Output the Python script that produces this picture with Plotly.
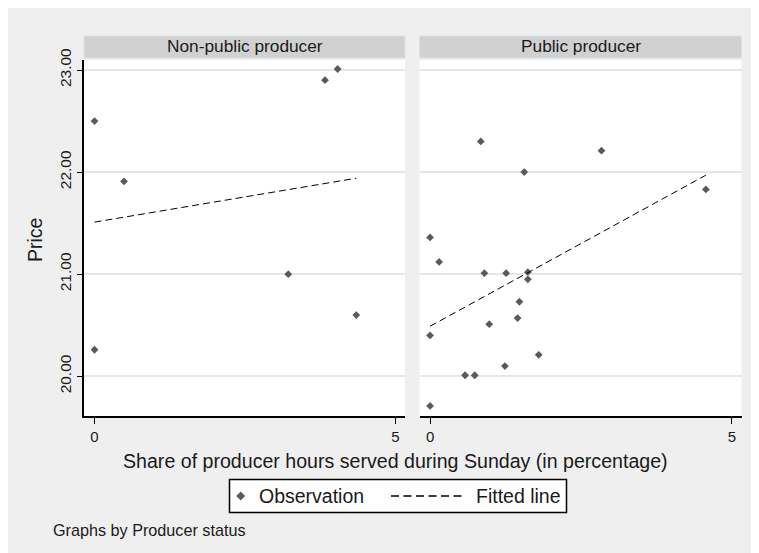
import plotly.graph_objects as go

# The page body adds an 8px margin, so the figure is laid out in
# coordinates shifted by 8px from the 759x553 window.
W, H = 751, 545
OFF = 8

# ---- data ----
panel_titles = ["Non-public producer", "Public producer"]

x_nonpublic = [0.00, 0.49, 3.83, 4.04, 3.22, 4.35, 0.00]
y_nonpublic = [22.50, 21.91, 22.90, 23.01, 21.00, 20.60, 20.26]

x_public = [0.84, 1.56, 0.00, 0.15, 2.84, 4.57, 0.90, 1.26, 1.62, 1.62,
            1.48, 1.45, 0.98, 0.00, 1.80, 1.24, 0.58, 0.74, 0.00]
y_public = [22.30, 22.00, 21.36, 21.12, 22.21, 21.83, 21.01, 21.01, 21.02, 20.95,
            20.73, 20.57, 20.51, 20.40, 20.21, 20.10, 20.01, 20.01, 19.71]

fit_nonpublic_x = [0.00, 4.35]
fit_nonpublic_y = [21.51, 21.94]
fit_public_x = [0.00, 4.57]
fit_public_y = [20.49, 21.97]

y_ticks = [20, 21, 22, 23]
x_ticks = [0, 5]

legend_labels = ["Observation", "Fitted line"]
x_title = "Share of producer hours served during Sunday (in percentage)"
y_title = "Price"
note = "Graphs by Producer status"

# ---- helpers (window pixel -> paper fraction) ----
def px(x):
    return (x - OFF) / W

def py(y):
    return 1 - (y - OFF) / H

FONT = "Liberation Sans, Arial, sans-serif"
TXT = "#1a1a1a"
MARK = "#5a5a5a"

fig = go.Figure()

marker = dict(symbol="diamond", size=6, color=MARK)
line = dict(color="black", width=1, dash="7px,4px")

fig.add_trace(go.Scatter(x=x_nonpublic, y=y_nonpublic, mode="markers", marker=marker,
                         name=legend_labels[0], xaxis="x", yaxis="y"))
fig.add_trace(go.Scatter(x=fit_nonpublic_x, y=fit_nonpublic_y, mode="lines", line=line,
                         name=legend_labels[1], xaxis="x", yaxis="y"))
fig.add_trace(go.Scatter(x=x_public, y=y_public, mode="markers", marker=marker,
                         name=legend_labels[0], xaxis="x2", yaxis="y2"))
fig.add_trace(go.Scatter(x=fit_public_x, y=fit_public_y, mode="lines", line=line,
                         name=legend_labels[1], xaxis="x2", yaxis="y2"))

# panel geometry in window pixels
L1, R1 = 84, 405
L2, R2 = 419.5, 741.5
TOP, BOT = 60, 416
yr = [19.611, 23.098]

common_x = dict(range=[-0.175, 5.16], tickvals=x_ticks, ticktext=[str(v) for v in x_ticks],
                showline=True, linecolor="black", linewidth=1.5, ticks="outside",
                ticklen=6, tickwidth=1.2, tickcolor="black", showgrid=False, zeroline=False,
                tickfont=dict(family=FONT, size=15, color=TXT), fixedrange=True,
                automargin=False)

fig.update_layout(
    template="none",
    width=W, height=H, autosize=False,
    margin=dict(l=0, r=0, t=0, b=0, pad=0),
    paper_bgcolor="#efefef", plot_bgcolor="white",
    font=dict(family=FONT, color=TXT),
    showlegend=False,
    xaxis=dict(domain=[px(L1), px(R1)], anchor="y", **common_x),
    xaxis2=dict(domain=[px(L2), px(R2)], anchor="y2", **common_x),
    yaxis=dict(domain=[py(BOT), py(TOP)], anchor="x", range=yr, tickvals=y_ticks,
               tickformat=".2f", tickangle=-90, showline=True, linecolor="black",
               linewidth=1.5, ticks="outside", ticklen=5, tickwidth=1.2, tickcolor="black",
               showgrid=True, gridcolor="#e6e6e6", gridwidth=1.5, zeroline=False,
               tickfont=dict(family=FONT, size=15.5, color=TXT), fixedrange=True,
               automargin=False),
    yaxis2=dict(domain=[py(BOT), py(TOP)], anchor="x2", range=yr, tickvals=y_ticks,
                showticklabels=False, showline=False, ticks="",
                showgrid=True, gridcolor="#e6e6e6", gridwidth=1.5, zeroline=False,
                fixedrange=True, automargin=False),
)

shapes = []
# strip headers
for (l, r) in [(L1, R1), (L2, R2)]:
    shapes.append(dict(type="rect", xref="paper", yref="paper", x0=px(l), x1=px(r),
                       y0=py(58), y1=py(36), fillcolor="#d1d1d1",
                       line=dict(color="#d4e2ea", width=1), layer="below"))
# legend box
LG_L, LG_R, LG_T, LG_B = 229.5, 566.5, 479.5, 512.5
LG_Y = 496
shapes.append(dict(type="rect", xref="paper", yref="paper", x0=px(LG_L), x1=px(LG_R),
                   y0=py(LG_B), y1=py(LG_T), fillcolor="white",
                   line=dict(color="black", width=1.5), layer="above"))
# legend key: diamond marker
mx, my, mr = 240.7, LG_Y, 4.2
shapes.append(dict(type="path", xref="paper", yref="paper",
                   path="M {},{} L {},{} L {},{} L {},{} Z".format(
                       px(mx - mr), py(my), px(mx), py(my - mr),
                       px(mx + mr), py(my), px(mx), py(my + mr)),
                   fillcolor=MARK, line=dict(color=MARK, width=0.5), layer="above"))
# legend key: dashed line
shapes.append(dict(type="line", xref="paper", yref="paper", x0=px(391), x1=px(462),
                   y0=py(LG_Y), y1=py(LG_Y), line=dict(color="black", width=1.5,
                                                       dash="8px,4.5px"), layer="above"))
fig.update_layout(shapes=shapes)

ann = []
for title, (l, r) in zip(panel_titles, [(L1, R1), (L2, R2)]):
    ann.append(dict(text=title, xref="paper", yref="paper", x=px((l + r) / 2), y=py(46.5),
                    xanchor="center", yanchor="middle", showarrow=False,
                    font=dict(family=FONT, size=17.3, color=TXT)))
ann.append(dict(text=x_title, xref="paper", yref="paper", x=px(395.5), y=py(461),
                xanchor="center", yanchor="middle", showarrow=False,
                font=dict(family=FONT, size=19.6, color=TXT)))
ann.append(dict(text=y_title, xref="paper", yref="paper", x=px(35), y=py(240),
                xanchor="center", yanchor="middle", showarrow=False, textangle=-90,
                font=dict(family=FONT, size=19.5, color=TXT)))
ann.append(dict(text=note, xref="paper", yref="paper", x=px(51), y=py(530),
                xanchor="left", yanchor="middle", showarrow=False,
                font=dict(family=FONT, size=16.2, color=TXT)))
ann.append(dict(text=legend_labels[0], xref="paper", yref="paper", x=px(256.5), y=py(LG_Y),
                xanchor="left", yanchor="middle", showarrow=False,
                font=dict(family=FONT, size=19.5, color=TXT)))
ann.append(dict(text=legend_labels[1], xref="paper", yref="paper", x=px(473.5), y=py(LG_Y),
                xanchor="left", yanchor="middle", showarrow=False,
                font=dict(family=FONT, size=19.5, color=TXT)))
fig.update_layout(annotations=ann)

fig.write_html("out.html")
